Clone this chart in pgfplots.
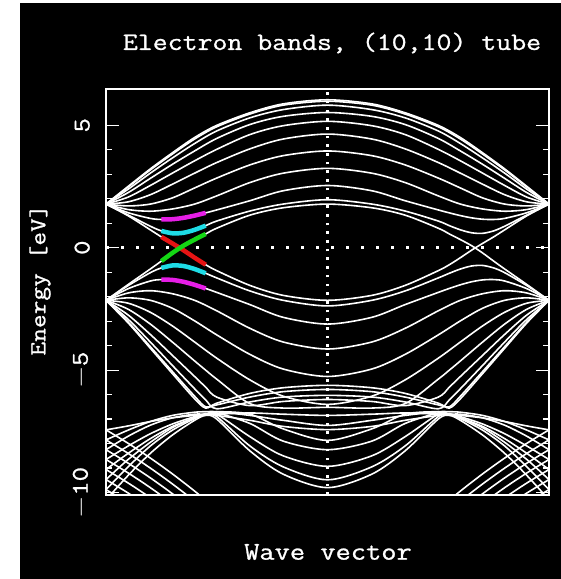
\documentclass[border=0pt]{standalone}
\usepackage{fontspec}
\usepackage{graphicx}
\usepackage{pgfplots}
\usepackage{pgfplotstable}
\pgfplotsset{compat=1.18}

\newfontfamily\labfont{Latin Modern Mono}[FakeBold=0.9]

\definecolor{bmag}{RGB}{230,30,230}
\definecolor{bcyan}{RGB}{30,220,230}
\definecolor{bred}{RGB}{230,20,20}
\definecolor{bgreen}{RGB}{20,215,20}

\newcommand{\mt}[2]{\scalebox{1.16}[1]{\labfont\fontsize{#1}{#1}\selectfont #2}}

% pi bands: conduction c0..c7, valence v5..v7
\pgfplotstableread{
x      c0    c1    c2    c3    c4    c5    c6    c7    v5     v6     v7
-1     1.780 1.780 1.780 1.780 1.780 1.780 1.780 1.780 -2.150 -2.150 -2.150
-0.9   2.503 2.474 2.388 2.249 2.065 1.872 1.705 1.557 -2.267 -2.049 -1.850
-0.8   3.217 3.173 3.042 2.829 2.540 2.162 1.780 1.489 -2.638 -2.150 -1.757
-0.7   3.877 3.824 3.665 3.405 3.045 2.593 2.034 1.581 -3.197 -2.475 -1.882
-0.6   4.499 4.437 4.253 3.950 3.547 3.042 2.438 1.780 -3.852 -2.989 -2.150
-0.5   4.995 4.938 4.767 4.461 4.016 3.477 2.843 2.115 -4.514 -3.562 -2.578
-0.35  5.510 5.458 5.303 5.030 4.620 4.036 3.380 2.660 -5.402 -4.360 -3.295
-0.2   5.873 5.820 5.639 5.364 4.981 4.437 3.758 3.042 -6.065 -4.956 -3.852
0      6.040 5.980 5.820 5.520 5.160 4.640 3.950 3.240 -6.400 -5.260 -4.139
0.2    5.873 5.820 5.639 5.364 4.981 4.437 3.758 3.042 -6.065 -4.956 -3.852
0.35   5.510 5.458 5.303 5.030 4.620 4.036 3.380 2.660 -5.402 -4.360 -3.295
0.5    4.995 4.938 4.767 4.461 4.016 3.477 2.843 2.115 -4.514 -3.562 -2.578
0.6    4.499 4.437 4.253 3.950 3.547 3.042 2.438 1.780 -3.852 -2.989 -2.150
0.7    3.877 3.824 3.665 3.405 3.045 2.593 2.034 1.581 -3.197 -2.475 -1.882
0.8    3.217 3.173 3.042 2.829 2.540 2.162 1.780 1.489 -2.638 -2.150 -1.757
0.9    2.503 2.474 2.388 2.249 2.065 1.872 1.705 1.557 -2.267 -2.049 -1.850
1      1.780 1.780 1.780 1.780 1.780 1.780 1.780 1.780 -2.150 -2.150 -2.150
}\tabA

% bands near the Fermi level
\pgfplotstableread{
x      c8    v8     c9    v9     A      B
-1     1.780 -2.150 1.780 -2.150 1.780  -2.150
-0.9   1.427 -1.674 1.335 -1.550 1.302  -1.505
-0.8   1.196 -1.362 0.877 -1.022 0.729  -0.872
-0.75  1.151 -1.302 0.685 -0.827 0.440  -0.547
-0.7   1.162 -1.317 0.586 -0.726 0.173  -0.214
-0.65  1.219 -1.394 0.609 -0.749 -0.105 0.084
-0.6   1.310 -1.516 0.729 -0.872 -0.409 0.330
-0.55  1.421 -1.665 0.899 -1.045 -0.696 0.561
-0.5   1.541 -1.827 1.087 -1.235 -0.939 0.795
-0.35  1.918 -2.326 1.497 -1.768 -1.542 1.329
-0.2   2.325 -2.845 1.780 -2.150 -1.948 1.630
0      2.540 -3.120 1.959 -2.379 -2.150 1.780
0.2    2.325 -2.845 1.780 -2.150 -1.948 1.630
0.35   1.918 -2.326 1.497 -1.768 -1.542 1.329
0.5    1.541 -1.827 1.087 -1.235 -0.939 0.795
0.55   1.421 -1.665 0.899 -1.045 -0.696 0.561
0.6    1.310 -1.516 0.729 -0.872 -0.409 0.330
0.65   1.219 -1.394 0.609 -0.749 -0.105 0.084
0.7    1.162 -1.317 0.586 -0.726 0.173  -0.214
0.75   1.151 -1.302 0.685 -0.827 0.440  -0.547
0.8    1.196 -1.362 0.877 -1.022 0.729  -0.872
0.9    1.427 -1.674 1.335 -1.550 1.302  -1.505
1      1.780 -2.150 1.780 -2.150 1.780  -2.150
}\tabB

% deep valence bands (mixed region)
\pgfplotstableread{
x      U0     U1     U2     U3     U4     LA    LB    LC    L4    L3    L2    L1    L0
-1     -2.150 -2.150 -2.150 -2.150 -2.150 -7.44 -7.85 -8.25 -8.65 -9.06 -9.47 -9.88 -10.30
-0.9   -3.072 -3.035 -2.926 -2.749 -2.514 -7.28 -7.45 -7.70 -8.10 -8.40 -8.65 -8.95 -9.30
-0.8   -4.106 -4.042 -3.852 -3.542 -3.120 -7.10 -7.10 -7.25 -7.60 -7.80 -7.95 -8.10 -8.40
-0.7   -5.145 -5.061 -4.811 -4.400 -3.856 -6.95 -6.85 -6.95 -7.20 -7.30 -7.35 -7.45 -7.65
-0.6   -6.170 -6.065 -5.760 -5.260 -4.625 -6.85 -6.72 -6.80 -6.90 -6.95 -6.95 -6.98 -7.05
-0.55  -6.550 -6.500 -6.216 -5.695 -5.002 -6.82 -6.70 -6.81 -6.80 -6.83 -6.80 -6.78 -6.85
-0.5   -6.350 -6.420 -6.580 -6.104 -5.369 -6.80 -6.70 -6.85 -6.70 -6.75 -6.80 -6.90 -7.00
-0.35  -5.950 -6.100 -6.300 -6.450 -6.370 -6.75 -6.85 -7.05 -6.80 -7.18 -7.72 -8.10 -8.30
-0.2   -5.720 -5.880 -6.100 -6.280 -6.550 -6.80 -7.05 -7.30 -7.40 -7.90 -8.50 -8.95 -9.25
0      -5.620 -5.790 -6.030 -6.200 -6.520 -6.85 -7.26 -7.43 -7.87 -8.25 -8.93 -9.48 -9.80
0.2    -5.720 -5.880 -6.100 -6.280 -6.550 -6.80 -7.05 -7.30 -7.40 -7.90 -8.50 -8.95 -9.25
0.35   -5.950 -6.100 -6.300 -6.450 -6.370 -6.75 -6.85 -7.05 -6.80 -7.18 -7.72 -8.10 -8.30
0.5    -6.350 -6.420 -6.580 -6.104 -5.369 -6.80 -6.70 -6.85 -6.70 -6.75 -6.80 -6.90 -7.00
0.55   -6.550 -6.500 -6.216 -5.695 -5.002 -6.82 -6.70 -6.81 -6.80 -6.83 -6.80 -6.78 -6.85
0.6    -6.170 -6.065 -5.760 -5.260 -4.625 -6.85 -6.72 -6.80 -6.90 -6.95 -6.95 -6.98 -7.05
0.7    -5.145 -5.061 -4.811 -4.400 -3.856 -6.95 -6.85 -6.95 -7.20 -7.30 -7.35 -7.45 -7.65
0.8    -4.106 -4.042 -3.852 -3.542 -3.120 -7.10 -7.10 -7.25 -7.60 -7.80 -7.95 -8.10 -8.40
0.9    -3.072 -3.035 -2.926 -2.749 -2.514 -7.28 -7.45 -7.70 -8.10 -8.40 -8.65 -8.95 -9.30
1      -2.150 -2.150 -2.150 -2.150 -2.150 -7.44 -7.85 -8.25 -8.65 -9.06 -9.47 -9.88 -10.30
}\tabH

% steep bands falling away from the zone edges
\pgfplotstableread{
x      F1     F2     F3     F4     F5     F6     F7
-1     -7.44  -7.85  -8.25  -8.65  -9.06  -9.47  -9.88
-0.9   -7.99  -8.40  -8.80  -9.20  -9.61  -10.02 -10.43
-0.8   -8.59  -9.00  -9.40  -9.80  -10.21 -10.62 -11.03
-0.7   -9.24  -9.65  -10.05 -10.45 -10.86 -11.27 -11.68
-0.6   -9.94  -10.35 -10.75 -11.15 -11.56 -11.97 -12.38
-0.5   -10.69 -11.10 -11.50 -11.90 -12.31 -12.72 -13.13
0      nan    nan    nan    nan    nan    nan    nan
0.5    -10.69 -11.10 -11.50 -11.90 -12.31 -12.72 -13.13
0.6    -9.94  -10.35 -10.75 -11.15 -11.56 -11.97 -12.38
0.7    -9.24  -9.65  -10.05 -10.45 -10.86 -11.27 -11.68
0.8    -8.59  -9.00  -9.40  -9.80  -10.21 -10.62 -11.03
0.9    -7.99  -8.40  -8.80  -9.20  -9.61  -10.02 -10.43
1      -7.44  -7.85  -8.25  -8.65  -9.06  -9.47  -9.88
}\tabF

\pgfplotsset{band/.style={white, line width=1.6pt, smooth, no markers}}

\begin{document}
\begin{tikzpicture}[x=1pt,y=1pt]
\fill[white] (0,0) rectangle (561,579);
\fill[black] (20,0) rectangle (561,576);
\begin{axis}[
    at={(106pt,84pt)}, anchor=south west,
    scale only axis, width=443pt, height=406pt,
    xmin=-1, xmax=1, ymin=-10.1, ymax=6.48,
    xtick=\empty,
    ytick={-10,-5,0,5},
    yticklabels={\mt{24}{$-$10},\mt{24}{$-$5},\mt{24}{0},\mt{24}{5}},
    minor y tick num=4,
    tick align=inside,
    major tick length=13pt, minor tick length=6pt,
    axis line style={white, line width=1.8pt},
    tick style={white, line width=1.2pt},
    yticklabel style={text=white, rotate=90, anchor=south, inner sep=0pt},
    yticklabel shift=16pt,
]
% dotted zero lines
\addplot[white, line width=2.6pt, dash pattern=on 2.6pt off 12.4pt] coordinates {(-1,0) (1,0)};
\addplot[white, line width=2.6pt, dash pattern=on 2.6pt off 6.1pt] coordinates {(0,-10.1) (0,6.48)};

\pgfplotsinvokeforeach{c0,c1,c2,c3,c4,c5,c6,c7,v5,v6,v7}{
  \addplot[band] table[x=x, y=#1] {\tabA};
}
\pgfplotsinvokeforeach{c8,v8,c9,v9,A,B}{
  \addplot[band] table[x=x, y=#1] {\tabB};
}
\pgfplotsinvokeforeach{U0,U1,U2,U3,U4,LA,LB,LC,L4,L3,L2,L1,L0}{
  \addplot[band] table[x=x, y=#1] {\tabH};
}
\pgfplotsinvokeforeach{F1,F2,F3,F4,F5,F6,F7}{
  \addplot[band, unbounded coords=jump] table[x=x, y=#1] {\tabF};
}

% highlighted segments
\addplot[bmag, line width=4.5pt, smooth, restrict x to domain=-0.76:-0.54] table[x=x, y=c8] {\tabB};
\addplot[bmag, line width=4.5pt, smooth, restrict x to domain=-0.76:-0.54] table[x=x, y=v8] {\tabB};
\addplot[bcyan, line width=4.5pt, smooth, restrict x to domain=-0.76:-0.54] table[x=x, y=c9] {\tabB};
\addplot[bcyan, line width=4.5pt, smooth, restrict x to domain=-0.76:-0.54] table[x=x, y=v9] {\tabB};
\addplot[bred, line width=4.5pt, smooth, restrict x to domain=-0.76:-0.54] table[x=x, y=A] {\tabB};
\addplot[bgreen, line width=4.5pt, smooth, restrict x to domain=-0.76:-0.54] table[x=x, y=B] {\tabB};
\end{axis}

\node[white] at (332,536) {\mt{25}{Electron bands, (10,10) tube}};
\node[white] at (328,27) {\mt{25.5}{Wave vector}};
\node[white, rotate=90] at (40,299) {\mt{23}{Energy [eV]}};
\end{tikzpicture}
\end{document}
